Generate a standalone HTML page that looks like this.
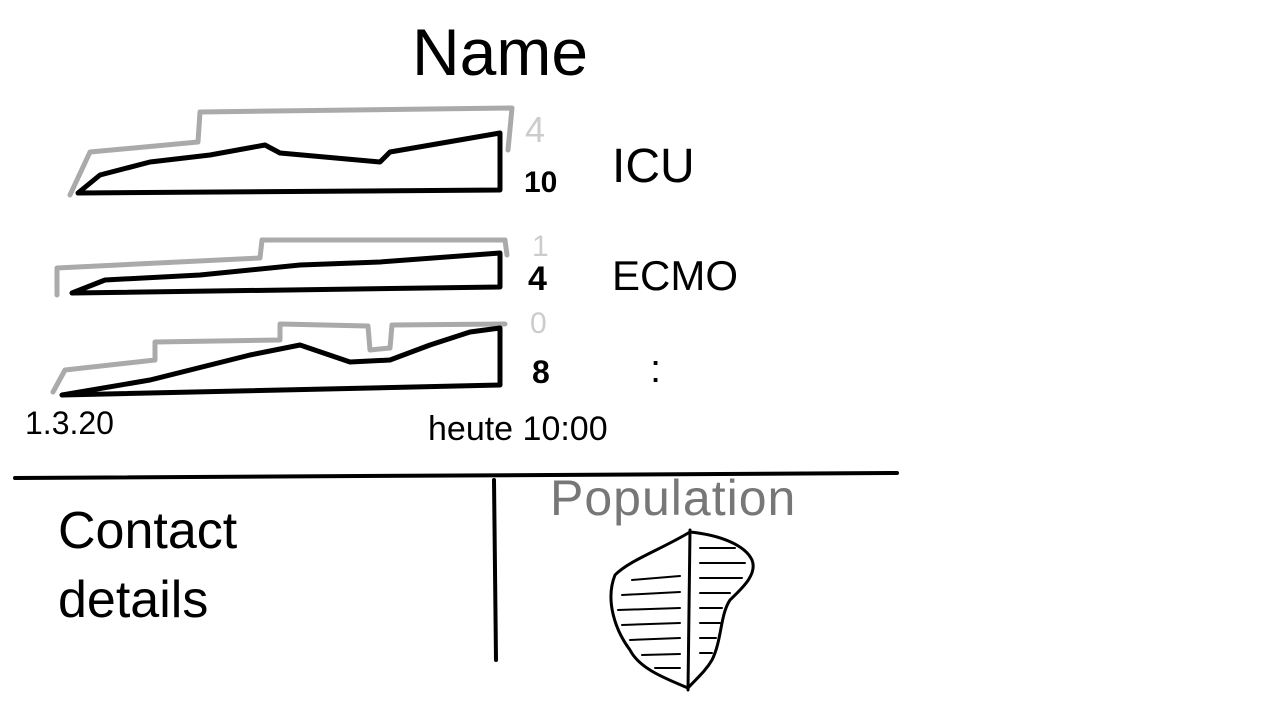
<!DOCTYPE html>
<html><head><meta charset="utf-8"><style>
html,body{margin:0;padding:0;background:#fff;width:1280px;height:716px;overflow:hidden}
svg{display:block}
text{font-family:"Liberation Sans",sans-serif;fill:#000}
</style></head><body>
<svg width="1280" height="716" viewBox="0 0 1280 716" xmlns="http://www.w3.org/2000/svg">
<g fill="none" stroke-linecap="round" stroke-linejoin="round">
<path d="M70,195 L90,152 L198,142 L200,112 L512,108 L508,150" stroke="#aaa" stroke-width="5"/>
<path d="M78,193 L500,190 L500,133 L390,152 L380,162 L280,153 L265,145 L210,155 L150,162 L100,175 Z" stroke="#000" stroke-width="5"/>
<path d="M57,295 L57,268 L260,258 L262,240 L505,240 L507,255" stroke="#aaa" stroke-width="5"/>
<path d="M72,293 L500,287 L500,253 L380,262 L300,265 L200,275 L105,280 Z" stroke="#000" stroke-width="5"/>
<path d="M53,392 L65,370 L155,360 L155,342 L280,340 L280,324 L368,326 L370,350 L390,348 L392,325 L505,324" stroke="#aaa" stroke-width="5"/>
<path d="M62,395 L500,385 L500,328 L470,332 L430,345 L390,360 L350,362 L300,345 L250,355 L150,380 Z" stroke="#000" stroke-width="5"/>
<path d="M15,478 L897,473" stroke="#000" stroke-width="4"/>
<path d="M494,480 L496,660" stroke="#000" stroke-width="4"/>
<path d="M688,690 L690,530 M690,532 C720,535 745,545 752,560 C758,575 740,590 730,600 C720,615 722,640 712,660 C705,672 695,680 688,688 C670,680 640,670 630,650 C615,630 605,600 615,575 C630,560 660,550 690,532" stroke="#000" stroke-width="3"/>
<g stroke="#000" stroke-width="2">
<path d="M632,580 L680,576 M622,595 L680,592 M618,610 L680,608 M622,625 L680,623 M630,640 L680,638 M642,655 L680,654 M655,668 L680,668"/>
<path d="M700,548 L735,548 M700,563 L745,563 M700,578 L742,578 M700,593 L730,593 M700,608 L722,608 M700,623 L720,623 M700,638 L716,638 M700,653 L712,653"/>
</g>
</g>
<text x="500" y="75" font-size="66" text-anchor="middle">Name</text>
<text x="524" y="192" font-size="30" font-weight="bold">10</text>
<text x="525" y="142" font-size="36" style="fill:#ccc">4</text>
<text x="612" y="182" font-size="48">ICU</text>
<text x="528" y="290" font-size="34" font-weight="bold">4</text>
<text x="532" y="256" font-size="30" style="fill:#ccc">1</text>
<text x="612" y="290" font-size="42">ECMO</text>
<text x="530" y="333" font-size="30" style="fill:#ccc">0</text>
<text x="532" y="383" font-size="32" font-weight="bold">8</text>
<text x="650" y="382" font-size="40">:</text>
<text x="25" y="434" font-size="32">1.3.20</text>
<text x="428" y="440" font-size="34">heute 10:00</text>
<text x="58" y="548" font-size="52">Contact</text>
<text x="58" y="617" font-size="52">details</text>
<text x="550" y="515" font-size="50" letter-spacing="1" style="fill:#777">Population</text>
</svg>
</body></html>
